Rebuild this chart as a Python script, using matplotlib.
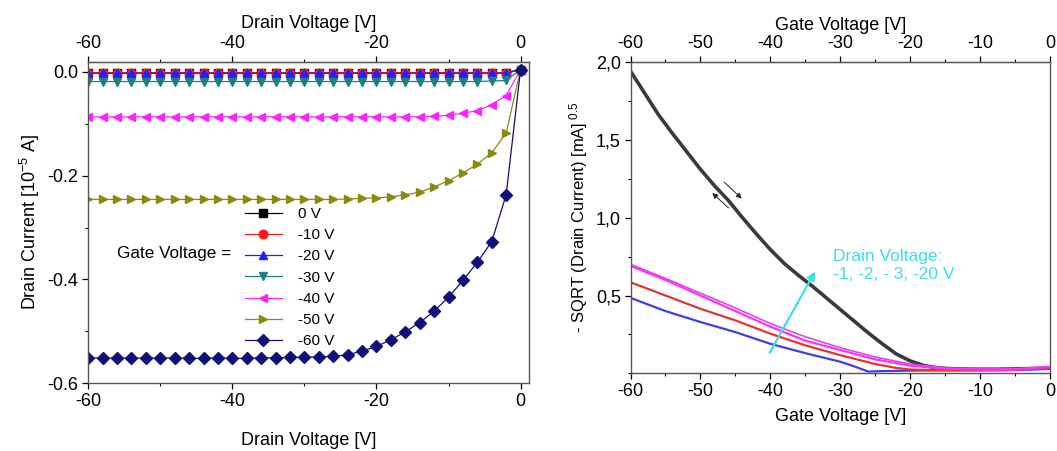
import numpy as np
import matplotlib
matplotlib.use('Agg')
import matplotlib.pyplot as plt
from matplotlib.ticker import MultipleLocator, FixedLocator, FixedFormatter

plt.rcParams['font.family'] = ['Liberation Sans', 'DejaVu Sans']
plt.rcParams['axes.unicode_minus'] = False
plt.rcParams['mathtext.fontset'] = 'custom'
plt.rcParams['mathtext.rm'] = 'Liberation Sans'
plt.rcParams['mathtext.it'] = 'Liberation Sans:italic'

# ---- left panel: output curves (drain current vs drain voltage)
vd = [-60, -58, -56, -54, -52, -50, -48, -46, -44, -42, -40, -38, -36, -34, -32,
      -30, -28, -26, -24, -22, -20, -18, -16, -14, -12, -10, -8, -6, -4, -2, 0]

id_0 = [-0.002, -0.002, -0.002, -0.002, -0.002, -0.002, -0.002, -0.002, -0.002, -0.002,
        -0.002, -0.002, -0.002, -0.002, -0.002, -0.002, -0.002, -0.002, -0.002, -0.002,
        -0.002, -0.002, -0.002, -0.002, -0.002, -0.002, -0.002, -0.002, -0.002, -0.002, 0.004]
id_10 = [-0.002, -0.002, -0.002, -0.002, -0.002, -0.002, -0.002, -0.002, -0.002, -0.002,
         -0.002, -0.002, -0.002, -0.002, -0.002, -0.002, -0.002, -0.002, -0.002, -0.002,
         -0.002, -0.002, -0.002, -0.002, -0.002, -0.002, -0.002, -0.002, -0.002, -0.002, 0.004]
id_20 = [-0.003, -0.003, -0.003, -0.003, -0.003, -0.003, -0.003, -0.003, -0.003, -0.003,
         -0.003, -0.003, -0.003, -0.003, -0.003, -0.003, -0.003, -0.003, -0.003, -0.003,
         -0.003, -0.003, -0.003, -0.003, -0.003, -0.003, -0.003, -0.003, -0.003, -0.003, 0.004]
id_30 = [-0.019, -0.019, -0.019, -0.019, -0.019, -0.019, -0.019, -0.019, -0.019, -0.019,
         -0.019, -0.019, -0.019, -0.019, -0.019, -0.019, -0.019, -0.019, -0.019, -0.019,
         -0.019, -0.019, -0.019, -0.019, -0.019, -0.019, -0.019, -0.019, -0.018, -0.017, 0.004]
id_40 = [-0.087, -0.087, -0.087, -0.087, -0.087, -0.087, -0.087, -0.087, -0.087, -0.087,
         -0.087, -0.087, -0.087, -0.087, -0.087, -0.087, -0.087, -0.087, -0.087, -0.087,
         -0.087, -0.087, -0.087, -0.087, -0.086, -0.084, -0.080, -0.075, -0.064, -0.046, 0.004]
id_50 = [-0.246, -0.246, -0.246, -0.246, -0.246, -0.246, -0.246, -0.246, -0.246, -0.246,
         -0.246, -0.246, -0.246, -0.246, -0.246, -0.246, -0.246, -0.246, -0.245, -0.244,
         -0.243, -0.241, -0.237, -0.232, -0.222, -0.210, -0.195, -0.178, -0.156, -0.118, 0.004]
id_60 = [-0.551, -0.551, -0.552, -0.551, -0.552, -0.551, -0.551, -0.552, -0.552, -0.551,
         -0.552, -0.552, -0.551, -0.551, -0.550, -0.550, -0.549, -0.548, -0.545, -0.538,
         -0.529, -0.516, -0.501, -0.483, -0.461, -0.434, -0.402, -0.367, -0.327, -0.237, 0.004]

gate_labels = ['0 V', '-10 V', '-20 V', '-30 V', '-40 V', '-50 V', '-60 V']
gate_colors = ['#000000', '#ff1a1a', '#2020ff', '#1f8080', '#ff22ff', '#8a8a10', '#10107a']
gate_markers = ['s', 'o', '^', 'v', '<', '>', 'D']

# ---- right panel: transfer curves, sqrt(Id) vs gate voltage
vg_black = [-60, -58, -56, -54, -52, -50, -48, -46, -44, -42, -40, -38, -36, -34, -32,
            -30, -28, -26, -24, -22, -20, -18, -16, -14, -12, -10, -8, -6, -4, -2, 0]
sq_black = [1.94, 1.80, 1.66, 1.54, 1.425, 1.31, 1.205, 1.11, 1.00, 0.895, 0.795, 0.705,
            0.63, 0.56, 0.485, 0.41, 0.335, 0.26, 0.19, 0.125, 0.08, 0.05, 0.035, 0.03,
            0.028, 0.027, 0.027, 0.028, 0.03, 0.032, 0.035]

vg_blue = [-60, -55, -50, -45, -40, -35, -30, -28, -26, -24, -20, -15, -10, -5, 0]
sq_blue = [0.485, 0.40, 0.33, 0.265, 0.19, 0.13, 0.075, 0.045, 0.012, 0.015, 0.018,
           0.02, 0.02, 0.022, 0.03]

vg_red = [-60, -55, -50, -45, -40, -35, -30, -25, -22, -20, -15, -10, -5, 0]
sq_red = [0.585, 0.50, 0.415, 0.34, 0.255, 0.18, 0.117, 0.06, 0.035, 0.025, 0.02, 0.02,
          0.022, 0.035]

vg_mag = [-60, -55, -50, -45, -40, -35, -30, -25, -20, -15, -10, -5, 0]
sq_mag_a = [0.69, 0.60, 0.50, 0.40, 0.30, 0.21, 0.15, 0.09, 0.05, 0.03, 0.025, 0.025, 0.04]
sq_mag_b = [0.70, 0.61, 0.515, 0.42, 0.32, 0.235, 0.165, 0.105, 0.06, 0.035, 0.028, 0.03, 0.045]

sq_ticks = [0.5, 1.0, 1.5, 2.0]
sq_ticklabels = ['0,5', '1,0', '1,5', '2,0']

cyan = '#3ddfe6'
FS = 13

fig = plt.figure(figsize=(10.57, 4.51), dpi=100)
ax1 = fig.add_axes([0.0835, 0.150, 0.4165, 0.713])
ax2 = fig.add_axes([0.5965, 0.172, 0.3970, 0.691])

# left
ys = [id_0, id_10, id_20, id_30, id_40, id_50, id_60]
for y, lab, c, m in zip(ys, gate_labels, gate_colors, gate_markers):
    ax1.plot(vd, y, color=c, marker=m, markersize=6.2, lw=0.9, label=lab)

ax1.set_xlim(-60, 1.1)
ax1.set_ylim(-0.6, 0.019)
ax1.xaxis.set_major_locator(MultipleLocator(20))
ax1.xaxis.set_minor_locator(MultipleLocator(10))
ax1.yaxis.set_major_locator(MultipleLocator(0.2))
ax1.yaxis.set_minor_locator(MultipleLocator(0.1))
ax1.yaxis.set_major_formatter(plt.FormatStrFormatter('%.1f'))
ax1.set_ylabel(r'Drain Current [10$^{-5}$ A]', fontsize=FS, labelpad=4)
ax1.set_xlabel('Drain Voltage [V]', fontsize=FS, labelpad=16)
ax1t = ax1.secondary_xaxis('top')
ax1t.xaxis.set_major_locator(MultipleLocator(20))
ax1t.xaxis.set_minor_locator(MultipleLocator(10))
ax1t.set_xlabel('Drain Voltage [V]', fontsize=FS, labelpad=5)

leg = ax1.legend(loc='upper left', bbox_to_anchor=(0.356, 0.548), frameon=False,
                 fontsize=11, handlelength=2.4, handletextpad=1.1, labelspacing=0.47,
                 borderpad=0, borderaxespad=0)
ax1.text(0.065, 0.405, 'Gate Voltage =', transform=ax1.transAxes, fontsize=12.3,
         ha='left', va='center')

# right
ax2.plot(vg_black, sq_black, color='#3a3a3a', lw=2.6)
ax2.plot(vg_blue, sq_blue, color='#4040e0', lw=1.6)
ax2.plot(vg_red, sq_red, color='#e03535', lw=1.6)
ax2.plot(vg_mag, sq_mag_b, color='#d050e0', lw=1.2)
ax2.plot(vg_mag, sq_mag_a, color='#ff30ff', lw=1.6)

ax2.set_xlim(-60, 0)
ax2.set_ylim(0, 2.0)
ax2.xaxis.set_major_locator(MultipleLocator(10))
ax2.xaxis.set_minor_locator(MultipleLocator(5))
ax2.yaxis.set_major_locator(FixedLocator(sq_ticks))
ax2.yaxis.set_major_formatter(FixedFormatter(sq_ticklabels))
ax2.yaxis.set_minor_locator(MultipleLocator(0.25))
ax2.set_ylabel(r'- SQRT (Drain Current) [mA]$^{\ 0.5}$', fontsize=FS - 1, labelpad=4)
ax2.set_xlabel('Gate Voltage [V]', fontsize=FS, labelpad=6)
ax2t = ax2.secondary_xaxis('top')
ax2t.xaxis.set_major_locator(MultipleLocator(10))
ax2t.xaxis.set_minor_locator(MultipleLocator(5))
ax2t.set_xlabel('Gate Voltage [V]', fontsize=FS, labelpad=4)

ax2.annotate('', xy=(-33.4, 0.67), xytext=(-40.3, 0.117),
             arrowprops=dict(arrowstyle='-|>', color=cyan, lw=1.6, mutation_scale=12))
ax2.text(-31.1, 0.695, 'Drain Voltage:\n-1, -2, - 3, -20 V', color=cyan, fontsize=12.5,
         ha='left', va='center', linespacing=1.25)
ax2.annotate('', xy=(-43.8, 1.11), xytext=(-46.9, 1.24),
             arrowprops=dict(arrowstyle='-|>', color='#222222', lw=0.7, mutation_scale=8))
ax2.annotate('', xy=(-48.6, 1.17), xytext=(-45.7, 1.05),
             arrowprops=dict(arrowstyle='-|>', color='#222222', lw=0.7, mutation_scale=8))

for a in (ax1, ax2, ax1t, ax2t):
    a.tick_params(which='major', direction='out', length=4, width=0.9, labelsize=FS, pad=3)
    a.tick_params(which='minor', direction='out', length=2.5, width=0.8)
for a in (ax1, ax2):
    for s in a.spines.values():
        s.set_color('#555555')
        s.set_linewidth(1.0)

fig.savefig('out.png', dpi=100)
